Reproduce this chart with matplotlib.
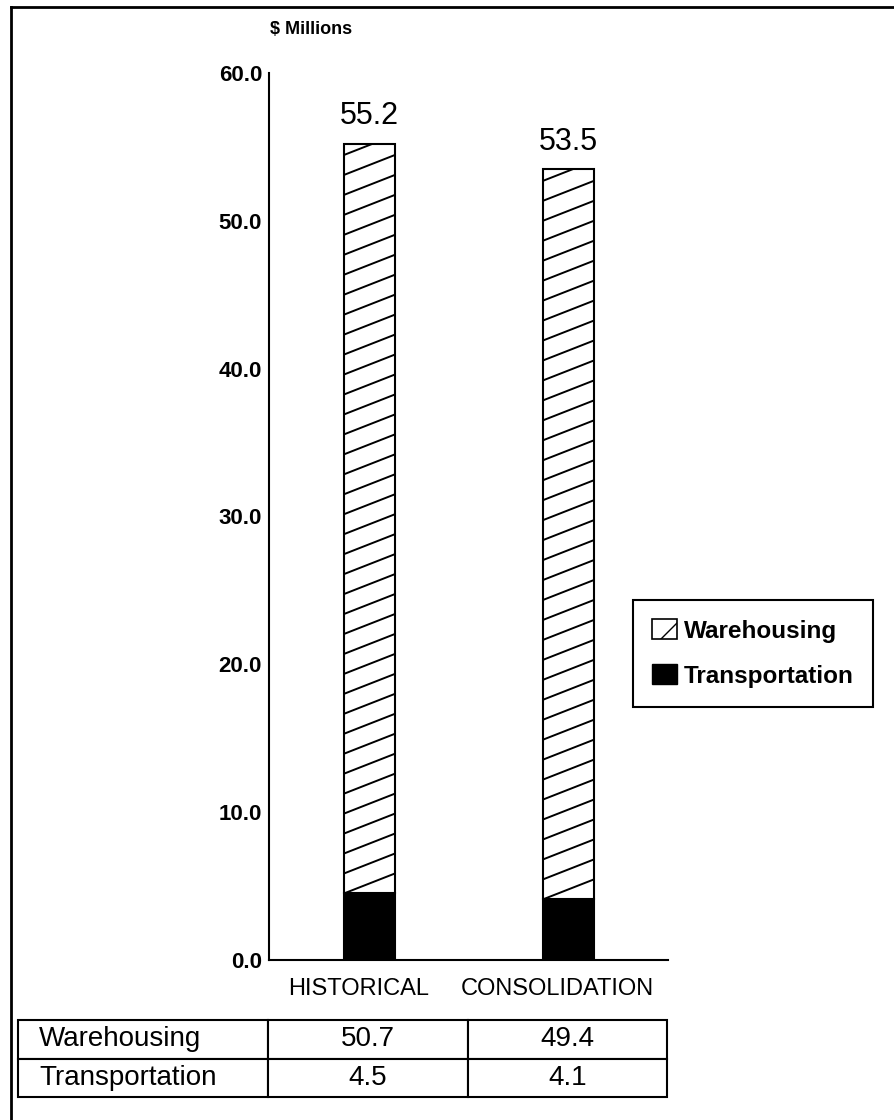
import matplotlib.pyplot as plt
from matplotlib.patches import Patch
from matplotlib.lines import Line2D
from matplotlib.transforms import ScaledTranslation

plt.rcParams["font.family"] = ["Liberation Sans", "DejaVu Sans"]

CATEGORIES = ["HISTORICAL", "CONSOLIDATION"]
SERIES = ["Warehousing", "Transportation"]
WAREHOUSING = [50.7, 49.4]
TRANSPORTATION = [4.5, 4.1]
TOTALS = [55.2, 53.5]
Y_TICKS = [0, 10, 20, 30, 40, 50, 60]

BAR_WIDTH = 0.256
HATCH_STEP = 1.35  # vertical gap between hatch lines, in $M


def hatch_bar(ax, rect):
    # shallow diagonal hatching clipped to the bar outline
    left = rect.get_x()
    right = left + rect.get_width()
    bottom = rect.get_y()
    top = bottom + rect.get_height()
    y = bottom - HATCH_STEP
    while y < top:
        ln, = ax.plot([left, right], [y, y + HATCH_STEP], color="black",
                      linewidth=1.4, solid_capstyle="butt", zorder=3)
        ln.set_clip_path(rect)
        y += HATCH_STEP


def main():
    fig = plt.figure(figsize=(8.94, 11.2), dpi=100)
    ax = fig.add_axes([0.3009, 0.1429, 0.4463, 0.792])

    x = list(range(len(CATEGORIES)))
    ax.bar(x, TRANSPORTATION, width=BAR_WIDTH, color="black",
           edgecolor="black", linewidth=1.5, zorder=2)
    tops = ax.bar(x, WAREHOUSING, width=BAR_WIDTH, bottom=TRANSPORTATION,
                  color="white", edgecolor="black", linewidth=1.5, zorder=2)
    for rect in tops:
        hatch_bar(ax, rect)

    for xi, total in zip(x, TOTALS):
        ax.annotate(f"{total:.1f}", (xi, total), xytext=(0, 9),
                    textcoords="offset points", ha="center", va="bottom",
                    fontsize=22)

    ax.set_xlim(-0.505, 1.5)
    ax.set_ylim(0, 60)
    ax.set_yticks(Y_TICKS, [f"{v:.1f}" for v in Y_TICKS])
    ax.set_xticks(x, CATEGORIES)
    ax.tick_params(axis="y", length=0, pad=5, labelsize=16)
    ax.tick_params(axis="x", length=0, pad=13, labelsize=17)
    for lab in ax.get_yticklabels():
        lab.set_fontweight("bold")
    # nudge the category names a little to the left
    shift = ScaledTranslation(-0.11, 0, fig.dpi_scale_trans)
    for lab in ax.get_xticklabels():
        lab.set_transform(lab.get_transform() + shift)
    for side in ["top", "right"]:
        ax.spines[side].set_visible(False)
    for side in ["left", "bottom"]:
        ax.spines[side].set_linewidth(1.5)

    fig.text(270 / 894, 1 - 30 / 1120, "$ Millions", fontsize=13,
             fontweight="bold", va="center", ha="left")

    handles = [
        Patch(facecolor="white", edgecolor="black", hatch="/", linewidth=1.2),
        Patch(facecolor="black", edgecolor="black"),
    ]
    leg = fig.legend(handles, SERIES, loc="lower left",
                     bbox_to_anchor=(633 / 894, 1 - 707 / 1120),
                     bbox_transform=fig.transFigure, borderaxespad=0,
                     fancybox=False, framealpha=1, edgecolor="black",
                     handlelength=1.0, handleheight=0.85, handletextpad=0.3,
                     labelspacing=0.9, borderpad=0.8,
                     prop={"size": 17.5, "weight": "bold"})
    leg.get_frame().set_linewidth(1.5)

    # data table under the chart
    tax = fig.add_axes([18 / 894, 1 - 1097 / 1120, 649 / 894, 77 / 1120])
    tax.axis("off")
    cells = [[name, f"{a:.1f}", f"{b:.1f}"]
             for name, (a, b) in zip(SERIES, [WAREHOUSING, TRANSPORTATION])]
    tbl = tax.table(cellText=cells, bbox=[0, 0, 1, 1],
                    colWidths=[250, 200, 199], cellLoc="center")
    tbl.auto_set_font_size(False)
    for (r, c), cell in tbl.get_celld().items():
        cell.set_linewidth(1.5)
        cell.set_edgecolor("black")
        cell.get_text().set_fontsize(20)
        if c == 0:
            cell.get_text().set_ha("left")
            cell.PAD = 0.085

    # outer frame: top and left edges only
    fig.add_artist(Line2D([11 / 894, 1], [1 - 7 / 1120, 1 - 7 / 1120],
                          transform=fig.transFigure, color="black", linewidth=2))
    fig.add_artist(Line2D([11 / 894, 11 / 894], [0, 1 - 7 / 1120],
                          transform=fig.transFigure, color="black", linewidth=2))

    fig.savefig("out.png", dpi=100)


if __name__ == "__main__":
    main()
